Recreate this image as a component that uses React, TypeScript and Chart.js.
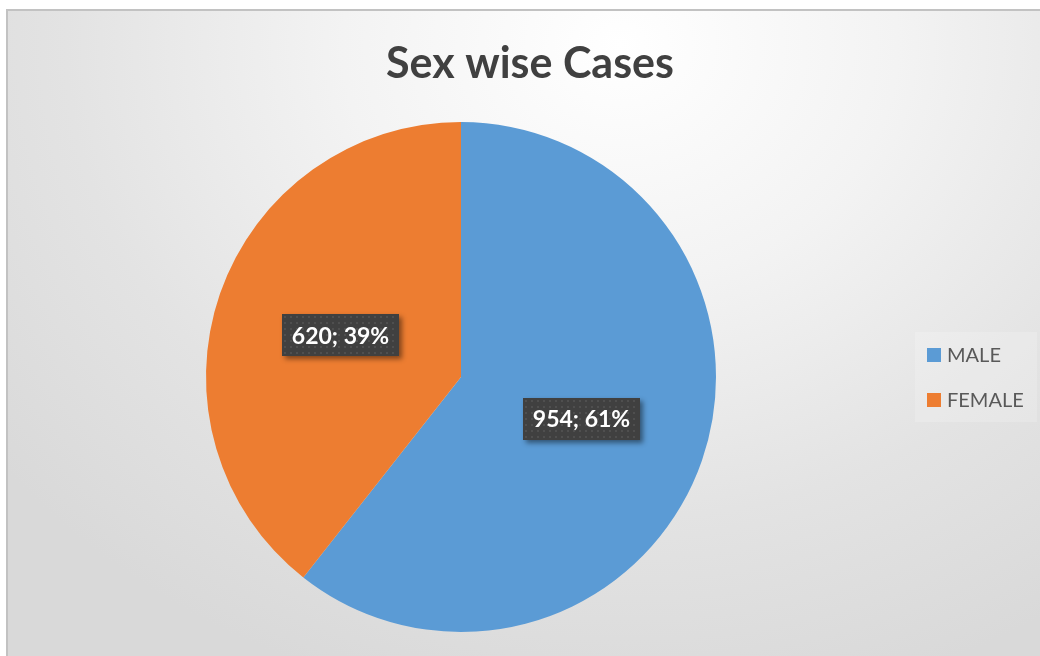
import React, { useEffect, useRef } from "react";
import { Chart, registerables } from "chart.js";

Chart.register(...registerables);

const TITLE = "Sex wise Cases";
const categories = ["MALE", "FEMALE"];
const cases = [954, 620];
const colors = ["#5B9BD5", "#ED7D31"];

const FONT = "Lato, 'Open Sans', 'DejaVu Sans', sans-serif";

const overlayPlugin = {
  id: "overlay",
  afterDatasetsDraw(chart: any) {
    const ctx = chart.ctx as CanvasRenderingContext2D;
    const meta = chart.getDatasetMeta(0);
    const data = chart.data.datasets[0].data as number[];
    const total = data.reduce((a, b) => a + b, 0);

    // Title
    ctx.save();
    ctx.fillStyle = "#404040";
    ctx.font = `bold 43px ${FONT}`;
    ctx.textAlign = "center";
    ctx.textBaseline = "alphabetic";
    ctx.fillText(TITLE, 530, 78);
    ctx.restore();

    // Data labels
    meta.data.forEach((arc: any, i: number) => {
      const p = arc.tooltipPosition();
      const txt = `${data[i]}; ${Math.round((data[i] / total) * 100)}%`;
      ctx.save();
      ctx.font = `bold 23px ${FONT}`;
      const tw = ctx.measureText(txt).width;
      const w = Math.max(117, tw + 18);
      const h = 42;
      const x = Math.round(p.x - w / 2);
      const y = Math.round(p.y - h / 2);
      ctx.shadowColor = "rgba(0,0,0,0.45)";
      ctx.shadowBlur = 5;
      ctx.shadowOffsetX = 3;
      ctx.shadowOffsetY = 3;
      ctx.fillStyle = "#404040";
      ctx.fillRect(x, y, w, h);
      ctx.shadowColor = "transparent";
      ctx.fillStyle = "#4f4f4f";
      for (let yy = y + 2; yy < y + h - 1; yy += 6) {
        for (let xx = x + 2; xx < x + w - 1; xx += 6) {
          ctx.fillRect(xx, yy, 2, 2);
        }
      }
      ctx.fillStyle = "#ffffff";
      ctx.textAlign = "center";
      ctx.textBaseline = "middle";
      ctx.fillText(txt, p.x, p.y + 1);
      ctx.restore();
    });

    // Legend
    ctx.save();
    ctx.fillStyle = "rgba(255,255,255,0.18)";
    ctx.fillRect(915, 332, 122, 90);
    ctx.font = `20px ${FONT}`;
    ctx.textBaseline = "alphabetic";
    ctx.textAlign = "left";
    const rows = [362, 407];
    categories.forEach((c, i) => {
      ctx.fillStyle = colors[i];
      ctx.fillRect(927, rows[i] - 14, 14, 14);
      ctx.fillStyle = "#595959";
      ctx.fillText(c, 947, rows[i]);
    });
    ctx.restore();
  },
};

export default function App() {
  const ref = useRef<HTMLCanvasElement>(null);
  useEffect(() => {
    if (!ref.current) return;
    const chart = new Chart(ref.current, {
      type: "pie",
      data: {
        labels: categories,
        datasets: [
          {
            data: cases,
            backgroundColor: colors,
            borderWidth: 0,
          },
        ],
      },
      options: {
        animation: false,
        responsive: false,
        maintainAspectRatio: false,
        layout: { padding: { top: 122, bottom: 24, left: 206, right: 324 } },
        plugins: {
          legend: { display: false },
          title: { display: false },
          tooltip: { enabled: false },
        },
      },
      plugins: [overlayPlugin],
    });
    return () => chart.destroy();
  }, []);

  return (
    <div style={{ position: "fixed", left: 0, top: 0, width: 1040, height: 656, overflow: "hidden" }}>
      <div
        style={{
          position: "absolute",
          left: 6,
          top: 9,
          width: 1060,
          height: 680,
          boxSizing: "border-box",
          border: "2px solid #c2c2c2",
          background:
            "radial-gradient(ellipse 75% 100% at 58% 5%, #ffffff 0%, #f3f3f3 35%, #e3e3e3 70%, #d9d9d9 100%)",
        }}
      />
      <canvas
        ref={ref}
        width={1040}
        height={656}
        style={{ position: "absolute", left: 0, top: 0, width: 1040, height: 656 }}
      />
    </div>
  );
}
